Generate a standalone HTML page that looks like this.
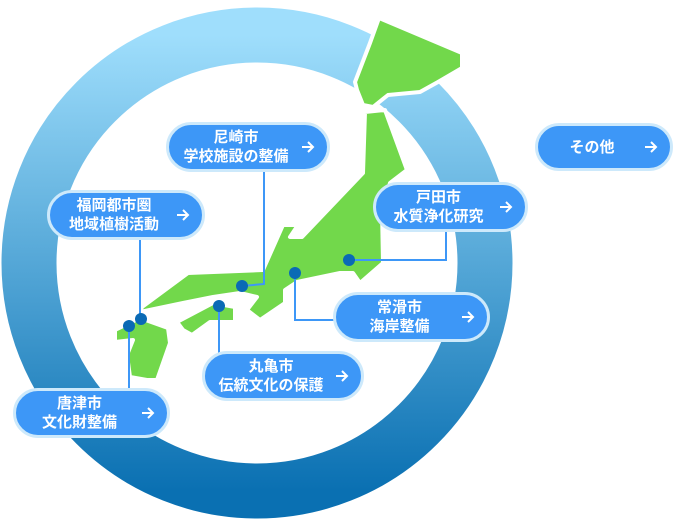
<!DOCTYPE html><html><head><meta charset="utf-8"><style>
body{margin:0;width:676px;height:520px;background:#fff;overflow:hidden;position:relative;font-family:"Liberation Sans","Noto Sans CJK JP",sans-serif}
.b{position:absolute;box-sizing:border-box;background:#3d97f7;border:3px solid #cde9fb;border-radius:26px;color:#fff;font-weight:bold;font-size:15px;line-height:19px;text-align:center;display:flex;align-items:center;justify-content:center;padding-right:24px}
.b svg{position:absolute;right:12px;top:50%;margin-top:-7px}
</style></head><body>
<svg width="676" height="520" style="position:absolute;left:0;top:0">
<defs><linearGradient id="g" x1="0" y1="0" x2="0" y2="1"><stop offset="0" stop-color="#9fdefc"/><stop offset="1" stop-color="#0a70b2"/></linearGradient></defs>
<circle cx="257" cy="263" r="228" fill="none" stroke="url(#g)" stroke-width="55"/>
<g fill="#72d84b" stroke="#fff" stroke-width="4" stroke-linejoin="round">
<polygon points="379,18 462,53 462,68 438,82 420,92 388,95 373,107 363,105 357,90 355,82 370,43"/>
<polygon points="365,112 385,110 407,170 390,183 382,210 383,263 360,283 353,273 340,273 297,282 285,290 285,303 260,320 247,310 257,297 240,293 213,297 183,303 140,312 142,307 188,273 263,270 283,225 298,225 290,237 302,237 363,173"/>
<polygon points="177,322 213,303 235,307 235,322 210,322 192,335 183,330"/>
<polygon points="115,330 140,318 168,328 170,343 157,380 147,380 130,377 127,355 133,340 115,342"/>
</g>
<g fill="none" stroke="#3d97f7" stroke-width="2">
<polyline points="264,172 264,284 242,286"/><polyline points="140,240 140,319"/><polyline points="129,326 129,390"/><polyline points="219,306 219,354"/><polyline points="295,273 295,320 335,320"/><polyline points="349,260 446,260 446,232"/>
</g>
<g fill="#0a6ab5"><circle cx="141" cy="319" r="6"/><circle cx="129" cy="326" r="6"/><circle cx="242" cy="286" r="6"/><circle cx="219" cy="306" r="6"/><circle cx="295" cy="273" r="6"/><circle cx="349" cy="260" r="6"/></g>
</svg>
<div class="b" style="left:166px;top:122px;width:164px;height:50px">尼崎市<br>学校施設の整備<svg width="14" height="14"><path d="M1 7H12M7 2L12 7L7 12" fill="none" stroke="#fff" stroke-width="2"/></svg></div>
<div class="b" style="left:47px;top:190px;width:158px;height:50px">福岡都市圏<br>地域植樹活動<svg width="14" height="14"><path d="M1 7H12M7 2L12 7L7 12" fill="none" stroke="#fff" stroke-width="2"/></svg></div>
<div class="b" style="left:373px;top:182px;width:155px;height:50px">戸田市<br>水質浄化研究<svg width="14" height="14"><path d="M1 7H12M7 2L12 7L7 12" fill="none" stroke="#fff" stroke-width="2"/></svg></div>
<div class="b" style="left:333px;top:292px;width:157px;height:50px">常滑市<br>海岸整備<svg width="14" height="14"><path d="M1 7H12M7 2L12 7L7 12" fill="none" stroke="#fff" stroke-width="2"/></svg></div>
<div class="b" style="left:202px;top:351px;width:162px;height:50px">丸亀市<br>伝統文化の保護<svg width="14" height="14"><path d="M1 7H12M7 2L12 7L7 12" fill="none" stroke="#fff" stroke-width="2"/></svg></div>
<div class="b" style="left:13px;top:388px;width:157px;height:50px">唐津市<br>文化財整備<svg width="14" height="14"><path d="M1 7H12M7 2L12 7L7 12" fill="none" stroke="#fff" stroke-width="2"/></svg></div>
<div class="b" style="left:535px;top:123px;width:138px;height:48px">その他<svg width="14" height="14"><path d="M1 7H12M7 2L12 7L7 12" fill="none" stroke="#fff" stroke-width="2"/></svg></div>
</body></html>
